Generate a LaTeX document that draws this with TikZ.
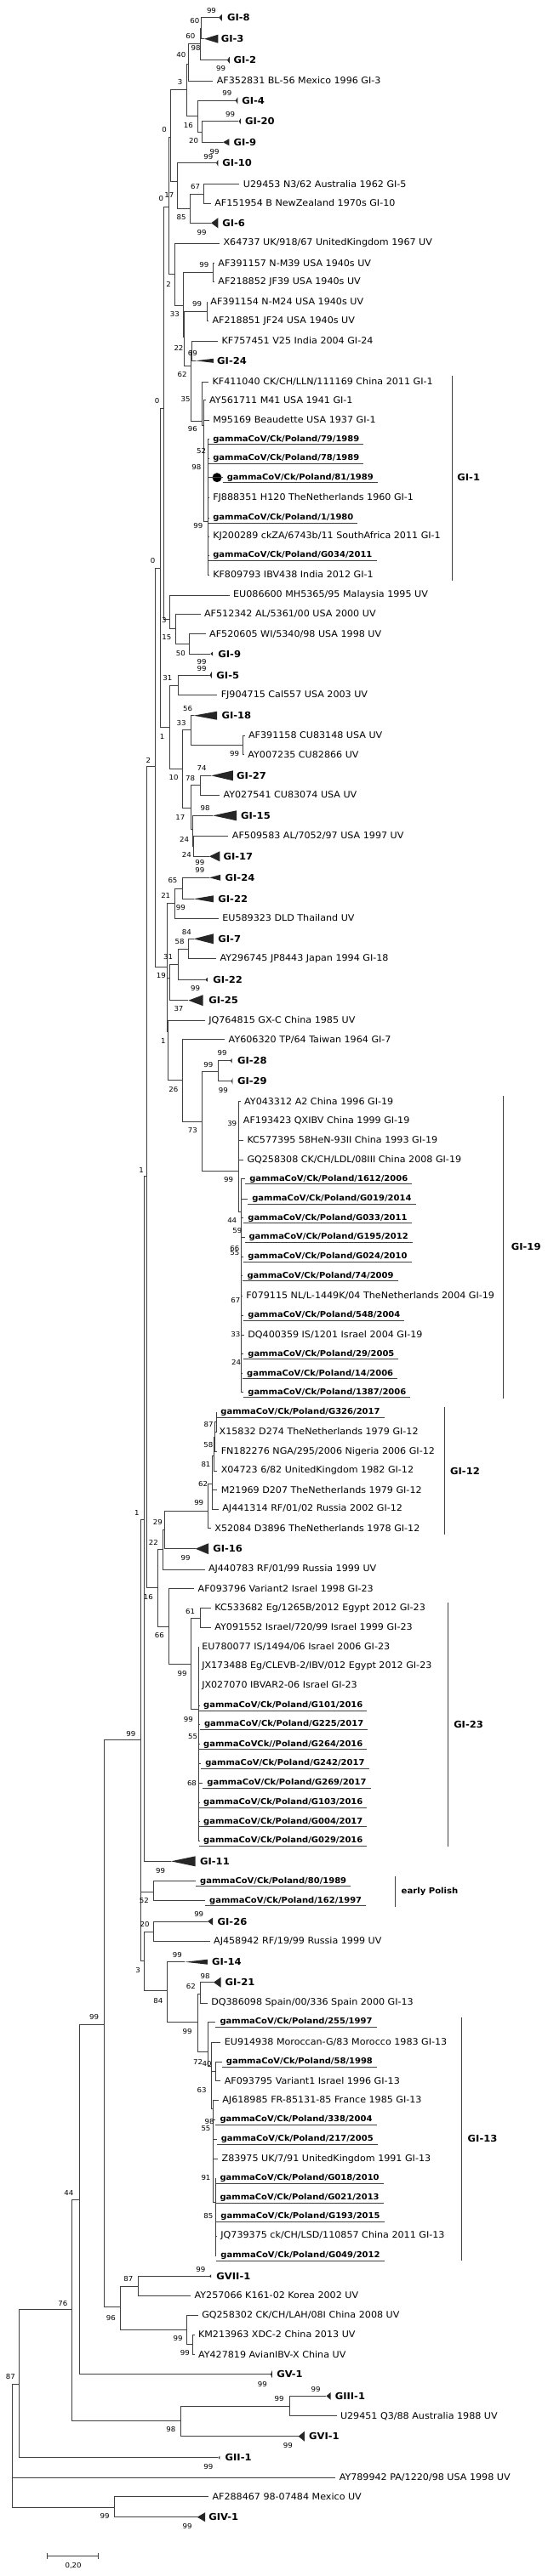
\documentclass[tikz,border=0pt]{standalone}
\usepackage{fontspec}
\setmainfont[FakeStretch=1.05]{DejaVu Sans}

\tikzset{
  branch/.style={draw=black!75, line width=0.8pt},
  leaf/.style={anchor=west, inner xsep=4.3pt, inner ysep=0pt, font=\fontsize{10.6}{12}\selectfont},
  pleaf/.style={anchor=west, inner xsep=4.9pt, inner ysep=0pt, font=\fontsize{9.5}{12}\selectfont\bfseries},
  group/.style={anchor=west, inner sep=0pt, font=\fontsize{11}{13}\selectfont\bfseries},
  boot/.style={inner sep=0pt, font=\fontsize{8.2}{10}\selectfont},
  uline/.style={draw=black!75, line width=0.8pt},
}

\newcommand{\collapsed}[7]{%
  \coordinate (#1) at (#3,#2);
  \fill[black!85] (#1) -- (#4,#2-#5) -- (#4,#2+#5) -- cycle;
  \node[group] (#1t) at (#6,#2) {#7};}
\newcommand{\strain}[4]{\node[leaf] (#1) at (#3-3.5,#2) {#4};}
\newcommand{\isolate}[4]{%
  \node[pleaf] (#1) at (#3-4,#2) {#4};
  \draw[uline] ([yshift=-6pt]#1.west) -- ([yshift=-6pt]#1.east);}

\begin{document}
\begin{tikzpicture}[x=1.2302pt,y=-1pt]
\useasboundingbox (0,0) rectangle (522.68,3030);

\collapsed{C1}{20.7}{209}{212}{4}{217}{GI-8}
\collapsed{C2}{45.7}{195}{208.3}{5}{211}{GI-3}
\collapsed{C3}{70.7}{217}{219.3}{4}{223}{GI-2}
\collapsed{C4}{118.3}{225}{227}{4}{231}{GI-4}
\collapsed{C5}{142.7}{228}{230}{3.5}{234}{GI-20}
\collapsed{C6}{167.3}{213}{219}{4}{223}{GI-9}
\collapsed{C7}{191.7}{206.5}{208.5}{4}{212.3}{GI-10}
\collapsed{C8}{262.3}{201.7}{208.3}{6}{212.3}{GI-6}
\collapsed{C9}{424.3}{186.7}{204}{2.5}{207.3}{GI-24}
\collapsed{C10}{769}{201}{203.3}{2.5}{208.3}{GI-9}
\collapsed{C11}{794}{200.5}{202.3}{4}{206.7}{GI-5}
\collapsed{C12}{841.7}{185}{207.3}{5}{211.7}{GI-18}
\collapsed{C13}{912.3}{201.7}{222.7}{6}{226}{GI-27}
\collapsed{C14}{959.3}{203.3}{226}{6}{230}{GI-15}
\collapsed{C15}{1007.3}{200}{210}{6}{213.3}{GI-17}
\collapsed{C16}{1032.3}{200}{210.7}{3.5}{215}{GI-24}
\collapsed{C17}{1057.3}{185}{204}{4}{208.3}{GI-22}
\collapsed{C18}{1104.3}{185}{204}{6}{208.3}{GI-7}
\collapsed{C19}{1152.3}{196}{198.3}{2.5}{203.3}{GI-22}
\collapsed{C20}{1176.7}{180}{194}{6.5}{199.3}{GI-25}
\collapsed{C21}{1247.7}{220}{221.7}{3}{226.7}{GI-28}
\collapsed{C22}{1271.7}{221}{222.3}{4}{226.7}{GI-29}
\collapsed{C23}{1821.7}{186.7}{199.3}{6.5}{203.3}{GI-16}
\collapsed{C24}{2189.3}{163.3}{186.7}{6}{191}{GI-11}
\collapsed{C25}{2260}{198.3}{203.3}{4.5}{207.7}{GI-26}
\collapsed{C26}{2307.7}{176.7}{198.3}{3}{202.3}{GI-14}
\collapsed{C27}{2331.7}{204}{211}{6}{215}{GI-21}
\collapsed{C28}{2677.3}{200}{201.7}{2}{206.7}{GVII-1}
\collapsed{C29}{2792.7}{258.5}{260}{4.5}{264.3}{GV-1}
\collapsed{C30}{2818.3}{311.7}{316}{4.5}{320}{GIII-1}
\collapsed{C31}{2865.7}{285}{291}{6}{295}{GVI-1}
\collapsed{C32}{2890.7}{208.5}{210}{2}{215}{GII-1}
\collapsed{C33}{2960.7}{188.3}{196}{5.5}{199.3}{GIV-1}

\strain{A1}{95}{207}{AF352831 BL-56 Mexico 1996 GI-3}
\strain{A2}{216.7}{232.3}{U29453 N3/62 Australia 1962 GI-5}
\strain{A3}{239}{205}{AF151954 B NewZealand 1970s GI-10}
\strain{A4}{286}{213.3}{X64737 UK/918/67 UnitedKingdom 1967 UV}
\strain{A5}{309.3}{208.3}{AF391157 N-M39 USA 1940s UV}
\strain{A6}{331.7}{208.3}{AF218852 JF39 USA 1940s UV}
\strain{A7}{355}{201}{AF391154 N-M24 USA 1940s UV}
\strain{A8}{377.7}{202.7}{AF218851 JF24 USA 1940s UV}
\strain{A9}{401}{211.7}{KF757451 V25 India 2004 GI-24}
\strain{A10}{449}{202.7}{KF411040 CK/CH/LLN/111169 China 2011 GI-1}
\strain{A11}{470.7}{200}{AY561711 M41 USA 1941 GI-1}
\strain{A12}{494}{203.3}{M95169 Beaudette USA 1937 GI-1}
\strain{A13}{585.7}{203.3}{FJ888351 H120 TheNetherlands 1960 GI-1}
\strain{A14}{631}{203.3}{KJ200289 ckZA/6743b/11 SouthAfrica 2011 GI-1}
\strain{A15}{676}{203.3}{KF809793 IBV438 India 2012 GI-1}
\strain{A16}{700}{222.7}{EU086600 MH5365/95 Malaysia 1995 UV}
\strain{A17}{722.3}{195}{AF512342 AL/5361/00 USA 2000 UV}
\strain{A18}{745.7}{200}{AF520605 WI/5340/98 USA 1998 UV}
\strain{A19}{817.7}{211}{FJ904715 Cal557 USA 2003 UV}
\strain{A20}{865}{237.3}{AF391158 CU83148 USA UV}
\strain{A21}{887.7}{236.7}{AY007235 CU82866 UV}
\strain{A22}{935}{213.3}{AY027541 CU83074 USA UV}
\strain{A23}{983.3}{221.7}{AF509583 AL/7052/97 USA 1997 UV}
\strain{A24}{1080}{212.3}{EU589323 DLD Thailand UV}
\strain{A25}{1127.7}{210}{AY296745 JP8443 Japan 1994 GI-18}
\strain{A26}{1200.7}{199.3}{JQ764815 GX-C China 1985 UV}
\strain{A27}{1222.7}{218.3}{AY606320 TP/64 Taiwan 1964 GI-7}
\strain{A28}{1295.7}{233.3}{AY043312 A2 China 1996 GI-19}
\strain{A29}{1318.3}{232.3}{AF193423 QXIBV China 1999 GI-19}
\strain{A30}{1341}{236}{KC577395 58HeN-93II China 1993 GI-19}
\strain{A31}{1364}{236}{GQ258308 CK/CH/LDL/08III China 2008 GI-19}
\strain{A32}{1524}{235}{F079115 NL/L-1449K/04 TheNetherlands 2004 GI-19}
\strain{A33}{1570}{236.7}{DQ400359 IS/1201 Israel 2004 GI-19}
\strain{A34}{1684}{209.3}{X15832 D274 TheNetherlands 1979 GI-12}
\strain{A35}{1707.3}{211}{FN182276 NGA/295/2006 Nigeria 2006 GI-12}
\strain{A36}{1730}{211}{X04723 6/82 UnitedKingdom 1982 GI-12}
\strain{A37}{1752.3}{211}{M21969 D207 TheNetherlands 1979 GI-12}
\strain{A38}{1775}{212.3}{AJ441314 RF/01/02 Russia 2002 GI-12}
\strain{A39}{1797.7}{205}{X52084 D3896 TheNetherlands 1978 GI-12}
\strain{A40}{1846}{199}{AJ440783 RF/01/99 Russia 1999 UV}
\strain{A41}{1868.3}{189}{AF093796 Variant2 Israel 1998 GI-23}
\strain{A42}{1891.7}{205}{KC533682 Eg/1265B/2012 Egypt 2012 GI-23}
\strain{A43}{1914.3}{205}{AY091552 Israel/720/99 Israel 1999 GI-23}
\strain{A44}{1937.3}{192.7}{EU780077 IS/1494/06 Israel 2006 GI-23}
\strain{A45}{1960}{192.7}{JX173488 Eg/CLEVB-2/IBV/012 Egypt 2012 GI-23}
\strain{A46}{1982.7}{192.7}{JX027070 IBVAR2-06 Israel GI-23}
\strain{A47}{2283.3}{204}{AJ458942 RF/19/99 Russia 1999 UV}
\strain{A48}{2356}{201.7}{DQ386098 Spain/00/336 Spain 2000 GI-13}
\strain{A49}{2402.3}{214.3}{EU914938 Moroccan-G/83 Morocco 1983 GI-13}
\strain{A50}{2447.7}{214.3}{AF093795 Variant1 Israel 1996 GI-13}
\strain{A51}{2470.7}{212.3}{AJ618985 FR-85131-85 France 1985 GI-13}
\strain{A52}{2539.3}{211.7}{Z83975 UK/7/91 UnitedKingdom 1991 GI-13}
\strain{A53}{2630}{210.7}{JQ739375 ck/CH/LSD/110857 China 2011 GI-13}
\strain{A54}{2700}{185.7}{AY257066 K161-02 Korea 2002 UV}
\strain{A55}{2723.3}{192.7}{GQ258302 CK/CH/LAH/08I China 2008 UV}
\strain{A56}{2746}{189.3}{KM213963 XDC-2 China 2013 UV}
\strain{A57}{2769.3}{189.3}{AY427819 AvianIBV-X China UV}
\strain{A58}{2841.7}{325}{U29451 Q3/88 Australia 1988 UV}
\strain{A59}{2914}{324}{AY789942 PA/1220/98 USA 1998 UV}
\strain{A60}{2936.7}{202.7}{AF288467 98-07484 Mexico UV}

\isolate{P1}{516.7}{203.3}{gammaCoV/Ck/Poland/79/1989}
\isolate{P2}{539.3}{203.3}{gammaCoV/Ck/Poland/78/1989}
\isolate{P3}{561.7}{216.7}{gammaCoV/Ck/Poland/81/1989}
\isolate{P4}{609}{203.3}{gammaCoV/Ck/Poland/1/1980}
\isolate{P5}{653.3}{203.3}{gammaCoV/Ck/Poland/G034/2011}
\isolate{P6}{1386.7}{238.3}{gammaCoV/Ck/Poland/1612/2006}
\isolate{P7}{1410}{240.7}{gammaCoV/Ck/Poland/G019/2014}
\isolate{P8}{1432.7}{236.7}{gammaCoV/Ck/Poland/G033/2011}
\isolate{P9}{1455}{237.7}{gammaCoV/Ck/Poland/G195/2012}
\isolate{P10}{1478.3}{236.7}{gammaCoV/Ck/Poland/G024/2010}
\isolate{P11}{1500.7}{236}{gammaCoV/Ck/Poland/74/2009}
\isolate{P12}{1547.3}{236.7}{gammaCoV/Ck/Poland/548/2004}
\isolate{P13}{1592.7}{236.7}{gammaCoV/Ck/Poland/29/2005}
\isolate{P14}{1615.7}{235.7}{gammaCoV/Ck/Poland/14/2006}
\isolate{P15}{1637.7}{236.7}{gammaCoV/Ck/Poland/1387/2006}
\isolate{P16}{1661}{210.7}{gammaCoV/Ck/Poland/G326/2017}
\isolate{P17}{2006}{194.3}{gammaCoV/Ck/Poland/G101/2016}
\isolate{P18}{2028.3}{195}{gammaCoV/Ck/Poland/G225/2017}
\isolate{P19}{2051.7}{194.3}{gammaCoVCk//Poland/G264/2016}
\isolate{P20}{2074}{196}{gammaCoV/Ck/Poland/G242/2017}
\isolate{P21}{2097.3}{197.7}{gammaCoV/Ck/Poland/G269/2017}
\isolate{P22}{2120}{194.3}{gammaCoV/Ck/Poland/G103/2016}
\isolate{P23}{2142.7}{194.3}{gammaCoV/Ck/Poland/G004/2017}
\isolate{P24}{2165}{194.3}{gammaCoV/Ck/Poland/G029/2016}
\isolate{P25}{2212.7}{191}{gammaCoV/Ck/Poland/80/1989}
\isolate{P26}{2235.7}{200}{gammaCoV/Ck/Poland/162/1997}
\isolate{P27}{2378.3}{210}{gammaCoV/Ck/Poland/255/1997}
\isolate{P28}{2425}{216}{gammaCoV/Ck/Poland/58/1998}
\isolate{P29}{2493.3}{210}{gammaCoV/Ck/Poland/338/2004}
\isolate{P30}{2516}{211}{gammaCoV/Ck/Poland/217/2005}
\isolate{P31}{2562.3}{210}{gammaCoV/Ck/Poland/G018/2010}
\isolate{P32}{2585}{210}{gammaCoV/Ck/Poland/G021/2013}
\isolate{P33}{2607.3}{210.7}{gammaCoV/Ck/Poland/G193/2015}
\isolate{P34}{2653.3}{210.7}{gammaCoV/Ck/Poland/G049/2012}

\node[circle, fill=black, inner sep=0pt, minimum size=11pt] (dot81) at (207.3,561.7) {};

\foreach \n/\x/\y in {a1/192.5/33, a2/191.5/51.7, a3/180/75, b1/193.3/155, b2/189.3/136.7,
    a4/178.3/105, c1/194.3/228.3, c2/181.7/245, c3/169.3/213, e1/163.3/161.7,
    d3/203.3/320, d4/197.7/366.7, d5a/183.5/412, g1/199/613, g2/195/500, g3/193.3/495,
    d5/182.3/430, d6b/176/396, d6a/175/359.3, d1/166.7/322.7, e2/161.3/243,
    h1/181/757, h2/167.7/739, h3/162.3/728, e3/156/480, h4/170/806, i1/232.3/876.7,
    i2/182.3/858, j1/191/923.3, k1/185/995, k2/184/975, k3/182.7/950, k4/174.5/904.3,
    k5/161.7/855, p1/153/668, n1/174.3/1045, n2/166.7/1062, o1/180/1116,
    o2/170/1134.3, o3/162.3/1150, q1/208.3/1260, r2/230/1425, r1/227.7/1377.7,
    q2/193.3/1319, q3/174.3/1270, o6/160.5/1213, o5/159.3/1137.7, p2/148.3/901.7,
    s1/207/1672.5, s2/205.5/1690, s3/204/1712, s4/202.7/1745, s5/199/1777.7,
    t1/157.3/1799.3, t2/155.7/1822.7, u3/191/1903.3, u4/190/2010, u2/182.7/1957.3,
    u1/161/1913.3, t3/150.7/1867.3, ff2/140/1383, ff1/137.7/1787.7, v1/146.7/2225,
    v2/146.7/2272.7, x1/191.7/2345, z1/206/2436, z5/206/2590, z4/203.3/2480,
    z3/201.7/2430, z2/199/2413.3, x2/189.3/2378.3, x3/160/2341.7, y1/137.7/2306.7,
    w1/134.3/2046.7, aa1/131.7/2689.3, aa2/184.3/2757.7, aa3/178.3/2740, aa4/115/2713.3,
    ee1/99.3/2381, dd3/76/2587.3, bb1/276.7/2830, bb2/172.7/2847.7, dd2/68.3/2716.7,
    dd1/18.3/2804, cc1/109.3/2949, root/11.7/2914}
  \coordinate (\n) at (\x,\y);

\foreach \p/\c in {a1/C1, a1/C2, a2/a1, a2/C3, a3/a2, a3/A1, b1/C5, b1/C6, b2/C4, b2/b1,
    a4/a3, a4/b2, c1/A2, c1/A3, c2/c1, c2/C8, c3/C7, c3/c2, e1/a4, e1/c3,
    d3/A5, d3/A6, d4/A7, d4/A8, d5a/A9, d5a/C9,
    g1/P1, g1/P2, g1/P3, g1/A13, g1/P4, g1/A14, g1/P5, g1/A15,
    g2/A11, g2/A12, g2/g1, g3/A10, g3/g2, d5/d5a, d5/g3, d6b/d4, d6b/d5,
    d6a/d3, d6a/d6b, d1/A4, d1/d6a, e2/e1, e2/d1,
    h1/A18, h1/C10, h2/A17, h2/h1, h3/A16, h3/h2, e3/e2, e3/h3,
    h4/C11, h4/A19, i1/A20, i1/A21, i2/C12, i2/i1, j1/C13, j1/A22,
    k1/A23, k1/C15, k2/C14, k2/k1, k3/j1, k3/k2, k4/i2, k4/k3, k5/h4, k5/k4,
    p1/e3, p1/k5, n1/C16, n1/C17, n2/n1, n2/A24, o1/C18, o1/A25, o2/o1, o2/C19,
    o3/o2, o3/C20, q1/C21, q1/C22,
    r2/P6, r2/P7, r2/P8, r2/P9, r2/P10, r2/P11, r2/A32, r2/P12, r2/A33, r2/P13, r2/P14, r2/P15,
    r1/A28, r1/A29, r1/A30, r1/A31, r1/r2, q2/q1, q2/r1, q3/A27, q3/q2,
    o6/A26, o6/q3, o5/n2, o5/o3, o5/o6, p2/p1, p2/o5,
    s1/P16, s1/A34, s2/s1, s2/A35, s3/s2, s3/A36, s4/s3, s4/A37, s4/A38, s5/s4, s5/A39,
    t1/s5, t1/C23, t2/t1, t2/A40, u3/A42, u3/A43,
    u4/A44, u4/A45, u4/A46, u4/P17, u4/P18, u4/P19, u4/P20, u4/P21, u4/P22, u4/P23, u4/P24,
    u2/u3, u2/u4, u1/A41, u1/u2, t3/t2, t3/u1, ff2/p2, ff2/t3, ff1/ff2, ff1/C24,
    v1/P25, v1/P26, v2/C25, v2/A47, x1/C27, x1/A48, z1/P28, z1/A50,
    z5/P31, z5/P32, z5/P33, z5/A53, z5/P34, z4/A51, z4/P29, z4/P30, z4/A52, z4/z5,
    z3/A49, z3/z1, z3/z4, z2/P27, z2/z3, x2/x1, x2/z2, x3/C26, x3/x2, y1/v2, y1/x3,
    w1/ff1, w1/v1, w1/y1, aa1/C28, aa1/A54, aa2/A56, aa2/A57, aa3/A55, aa3/aa2,
    aa4/aa1, aa4/aa3, ee1/w1, ee1/aa4, dd3/ee1, dd3/C29, bb1/C30, bb1/A58,
    bb2/bb1, bb2/C31, dd2/dd3, dd2/bb2, dd1/dd2, dd1/C32, cc1/A60, cc1/C33,
    root/dd1, root/A59, root/cc1}
  \draw[branch] (\p) |- (\c);

\foreach \x/\y/\t [count=\i] in {202/12.7/99, 186/25/60, 182/43/60, 187/57/98, 173/65/40,
    211/80.7/99, 172/97/3, 217/110/99, 220/135/99, 180/147.7/16, 157/153/0, 185/165.7/20,
    205/179/99, 199/184.3/99, 186.7/219.3/67, 161.7/230/17, 154/233.3/0, 173.3/255.5/85,
    192.7/273.3/99, 161/334/2, 195/311.7/99, 188.3/357.7/99, 167/370/33, 170.7/409/22,
    184/415.7/69, 174/440.7/62, 177.3/470/35, 150/471.7/0, 184/505/96,
    192.3/531/52, 187.7/550/98, 189.3/618.3/99, 146/660/0, 156.7/730/3, 159.3/749.3/15,
    172.7/768.3/50, 192.7/779/99, 192.7/786.7/99, 160/797.7/31, 179.3/833.3/56,
    173.3/850.7/33, 155/866/1, 224/886.7/99, 141.7/894/2, 192.7/903.3/74, 166/915/10,
    181.7/915.7/78, 196/950.7/98, 172.3/961/17, 176/987.7/24, 178.3/1005/24,
    191/1015/99, 191/1023.3/99, 165/1036/65, 158.3/1053.3/21, 172.7/1067.7/99,
    178.3/1096.7/84, 171.7/1107.7/58, 160.7/1125.7/31, 154/1147.7/19, 186.7/1162.3/99,
    170.7/1186.7/37, 156/1224.3/1, 212.3/1238.3/99, 199/1252.3/99,
    213.3/1282.3/99, 165.7/1281.7/26, 184/1329.3/73, 221.7/1321.7/39, 135/1376.7/1,
    218.3/1387.7/99, 221.7/1435/44, 226.7/1447.3/59, 224.3/1468.3/66, 224.3/1474/55,
    225/1529/67, 225/1569.3/33, 225.7/1602.7/24, 199.3/1675.7/87, 199/1699/58,
    196.7/1722.3/81, 194/1745/62, 190/1767.3/99, 130.7/1779.3/1, 150.7/1790/29,
    146.7/1814/22, 177.3/1832.7/99, 141.7/1878.3/16, 181.7/1895.7/61, 152.3/1923.3/66,
    174/1968.3/99, 180/2022.7/99, 184.3/2042.7/55, 125/2039.3/99, 183.3/2097.3/68,
    153.3/2200/99, 137.7/2235/52, 190/2251.7/99, 138.3/2263.3/20, 169.3/2299.3/99,
    131.7/2317.7/3, 196/2324/98, 182.3/2336/62, 151/2353.3/84, 90/2372.7/99,
    179/2389.3/99, 189/2425/72, 197.7/2427.7/40, 192.7/2458.3/63, 200/2495/98,
    196.7/2504/55, 196.7/2561/91, 65.7/2579/44, 199/2606.7/85, 191.7/2669.3/99,
    122.7/2680/87, 60/2709/76, 106/2726.7/96, 170/2750/99, 176.7/2767.3/99,
    10/2795/87, 250.7/2804/99, 301.7/2810/99, 266.7/2821/99, 163.3/2857.7/98,
    275/2876/99, 199/2901/99, 100/2959.3/99, 179/2971/99}
  \node[boot] (bs\i) at (\x,\y) {\t};

\coordinate (gb1a) at (431.7,442.3);
\coordinate (gb1b) at (431.7,683.3);
\draw[branch] (gb1a) -- (gb1b);
\node[group] (gb1) at (436.7,561.7) {GI-1};
\coordinate (gb2a) at (481,1289.3);
\coordinate (gb2b) at (481,1645);
\draw[branch] (gb2a) -- (gb2b);
\node[group] (gb2) at (488.3,1466.7) {GI-19};
\coordinate (gb3a) at (424.3,1655);
\coordinate (gb3b) at (424.3,1805);
\draw[branch] (gb3a) -- (gb3b);
\node[group] (gb3) at (430,1730) {GI-12};
\coordinate (gb4a) at (428.3,1885);
\coordinate (gb4b) at (428.3,2172.3);
\draw[branch] (gb4a) -- (gb4b);
\node[group] (gb4) at (433.3,2028.3) {GI-23};
\coordinate (gb5a) at (377.7,2207.3);
\coordinate (gb5b) at (377.7,2242.7);
\draw[branch] (gb5a) -- (gb5b);
\node[group, font=\fontsize{9.6}{12}\selectfont\bfseries] (gb5) at (383.3,2225) {early Polish};
\coordinate (gb6a) at (440.7,2372.7);
\coordinate (gb6b) at (440.7,2659.3);
\draw[branch] (gb6a) -- (gb6b);
\node[group] (gb6) at (446.7,2515) {GI-13};

\coordinate (sb0) at (45,3006.7);
\coordinate (sb1) at (94,3006.7);
\draw[branch] (sb0) -- (sb1);
\draw[branch] ([yshift=3.3pt]sb0) -- ([yshift=-3.3pt]sb0);
\draw[branch] ([yshift=3.3pt]sb1) -- ([yshift=-3.3pt]sb1);
\node[boot] (sbl) at (70,3017.5) {0,20};
\end{tikzpicture}
\end{document}
